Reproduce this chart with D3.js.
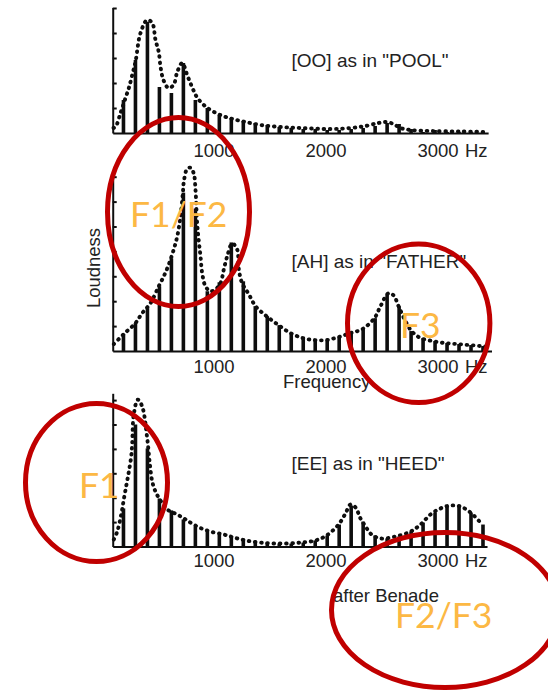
<!DOCTYPE html>
<html><head><meta charset="utf-8">
<script src="https://cdn.jsdelivr.net/npm/d3@7"></script>
<style>
html,body{margin:0;padding:0;background:#fff;}
svg{display:block;}
</style></head><body>
<svg id="chart" width="548" height="692"></svg>
<script>
// ---------------- data ----------------
const fundamentalHz = 107;
const harmonicNumbers = d3.range(2, 33); // harmonics 2..32
const tickValuesHz = [1000, 2000, 3000];
const unitLabel = "Hz";
const vowelTitles = ['[OO] as in "POOL"', '[AH] as in "FATHER"', '[EE] as in "HEED"'];
const yAxisTitle = "Loudness";
const xAxisTitle = "Frequency";
const sourceNote = "after Benade";
const annotationLabels = ["F1/F2", "F3", "F1", "F2/F3"];

// harmonic loudness (one value per harmonic 2..32)
const ooHarmonics = [13.2, 29.2, 44.4, 18.4, 16, 28, 13.2, 10, 7.2, 6, 4.8, 4, 3.2, 2.4, 2, 1.6,
  1.6, 1.2, 1.2, 1.6, 2, 2.8, 4, 3.6, 1.6, 0.4, 1.2, 0.4, 0.4, 0.4, 0.4];
const ahHarmonics = [6.8, 11.2, 17.2, 26, 37.2, 63.6, 57.2, 24, 27.6, 43.6, 28, 18, 14, 10.4, 7.2, 5.2,
  4.4, 4.4, 5.6, 7.2, 8.8, 13.2, 22.8, 18, 8, 5.2, 4, 3.2, 2.8, 2.4, 2];
const eeHarmonics = [15.6, 50, 40.2, 19.7, 14.8, 11.1, 8.2, 6.1, 4.9, 4.1, 2.9, 2, 1.6, 1.2, 1.2, 1.6,
  2.5, 4.5, 9, 16.8, 10.2, 4.5, 3.3, 4.1, 6.1, 9.8, 13.9, 16.4, 16.4, 13.9, 9];

// resonance envelopes [Hz, loudness]
const ooEnvelope = [[125,2],[143,2.4],[188,8],[232,14],[262,18],[292,23.2],[321,28.4],[366,40],[426,45.2],
  [471,44],[500,37.2],[529,32.4],[545,26.4],[571,21.2],[616,18],[661,19.2],[694,24.4],[738,28],[786,22.8],
  [830,18],[875,14],[964,10],[1080,7.2],[1188,5.6],[1304,4.4],[1438,3.2],[1616,2.4],[1795,2],[2063,1.6],
  [2241,2],[2375,2.8],[2491,4],[2563,4.4],[2625,3.6],[2688,2],[2777,1.2],[2955,0.8],[3223,0.6],[3450,0.4]];
const ahEnvelope = [[128,2.8],[217,6.8],[321,11.2],[381,15.2],[455,19.2],[529,26],[574,30],[619,34.8],
  [663,40.8],[694,46],[723,54],[744,63.2],[753,68],[783,73.2],[813,73.6],[842,71.2],[857,64.8],[872,51.2],
  [887,44],[902,38],[917,31.2],[946,26],[991,24],[1036,24.8],[1080,27.2],[1110,32.8],[1140,38],[1185,43.2],
  [1229,40.8],[1244,32.8],[1274,27.2],[1333,22.8],[1393,18],[1491,14],[1598,10.4],[1705,7.2],[1813,5.2],
  [1920,4.4],[2027,4.4],[2134,5.6],[2241,7.2],[2348,8.8],[2455,13.2],[2509,18],[2580,23.2],[2625,22.4],
  [2670,18],[2723,12.8],[2786,8],[2866,5.2],[2973,4],[3080,3.2],[3188,2.8],[3295,2.4],[3402,2],[3480,1.6]];
const eeEnvelope = [[128,2.9],[158,6.1],[194,13.1],[217,19.3],[241,25.4],[262,30.7],[283,36.9],[292,42.2],
  [306,54.1],[342,60.2],[381,57.4],[426,44.3],[449,34],[471,26.6],[500,22.5],[538,19.3],[604,15.2],
  [694,13.1],[768,11.1],[872,8.2],[991,6.1],[1110,4.9],[1199,3.7],[1304,2.5],[1438,1.6],[1616,1.2],
  [1795,1.6],[1929,2.5],[2027,4.5],[2134,9],[2196,13.5],[2241,17.2],[2286,16],[2330,11.5],[2375,8.2],
  [2429,4.9],[2509,3.3],[2643,4.1],[2777,6.1],[2866,9],[2955,13.1],[3045,15.6],[3134,16.8],[3223,16.4],
  [3313,13.9],[3402,9.8]];

// ---------------- layout ----------------
const svg = d3.select("#chart");
const INK = "#0e0e0e", TEXT = "#222";
const FONT = "'Liberation Sans', Arial, Helvetica, sans-serif";
const xBase = d3.scaleLinear().domain([0, 3500]).range([99.5, 491.5]);
const fStart = 118;

const panels = [
  {title: vowelTitles[0], bars: ooHarmonics, env: ooEnvelope, base: 133, top: 7.5, ppu: 2.5, fMax: 3470, titleY: 67, tickY: 156.5},
  {title: vowelTitles[1], bars: ahHarmonics, env: ahEnvelope, base: 351, top: 173, ppu: 2.49, fMax: 3500, titleY: 267.5, tickY: 373.3},
  {title: vowelTitles[2], bars: eeHarmonics, env: eeEnvelope, base: 546.5, top: 393.3, ppu: 2.44, fMax: 3460, titleY: 469.5, tickY: 567.3}
];

panels.forEach(p => {
  const g = svg.append("g");
  const x = d3.scaleLinear().domain([fStart, p.fMax]).range([xBase(fStart), xBase(p.fMax)]);
  const yMax = (p.base - p.top) / p.ppu;
  const y = d3.scaleLinear().domain([0, yMax]).range([p.base, p.top]);

  // bars
  g.selectAll("rect.bar").data(harmonicNumbers.map((k, i) => ({f: k * fundamentalHz, v: p.bars[i]})))
    .join("rect").attr("class", "bar")
    .attr("x", d => x(d.f) - 1.8).attr("width", 3.6)
    .attr("y", d => y(d.v)).attr("height", d => p.base - y(d.v))
    .attr("fill", INK);

  // envelope (dotted)
  const line = d3.line().x(d => x(d[0])).y(d => y(d[1])).curve(d3.curveCatmullRom.alpha(0.5));
  g.append("path").datum(p.env).attr("d", line)
    .attr("fill", "none").attr("stroke", INK).attr("stroke-width", 3.9)
    .attr("stroke-linecap", "round").attr("stroke-dasharray", "0.6 5.6");

  // y axis
  const yAxis = d3.axisRight(y).tickValues(d3.range(10, yMax, 10)).tickSize(4).tickSizeOuter(0).tickFormat("");
  const ya = g.append("g").attr("transform", `translate(${xBase(fStart)},0)`).call(yAxis);
  ya.selectAll("path,line").attr("stroke", INK).attr("stroke-width", 2);

  // x axis
  const xAxis = d3.axisBottom(x).tickValues(tickValuesHz).tickSize(0).tickSizeOuter(0).tickFormat(d3.format("d"));
  const xa = g.append("g").attr("transform", `translate(0,${p.base})`).call(xAxis);
  xa.select(".domain").attr("stroke", INK).attr("stroke-width", 2);
  xa.selectAll("text").attr("y", p.tickY - p.base).attr("dy", null).attr("dx", 2)
    .attr("font-family", FONT).attr("font-size", 18.5).attr("fill", TEXT);
  g.append("text").attr("x", x(tickValuesHz[2]) + 29.5).attr("y", p.tickY)
    .attr("font-family", FONT).attr("font-size", 18.5).attr("fill", TEXT).text(unitLabel);

  // title
  g.append("text").attr("x", 291.5).attr("y", p.titleY)
    .attr("font-family", FONT).attr("font-size", 19).attr("fill", TEXT).text(p.title);
});

svg.append("text").attr("transform", "translate(100,268) rotate(-90)")
  .attr("text-anchor", "middle").attr("font-family", FONT).attr("font-size", 18.5).attr("fill", TEXT).text(yAxisTitle);
svg.append("text").attr("x", 283).attr("y", 388)
  .attr("font-family", FONT).attr("font-size", 18.5).attr("fill", TEXT).text(xAxisTitle);
svg.append("text").attr("x", 333).attr("y", 601.7)
  .attr("font-family", FONT).attr("font-size", 18.5).attr("fill", TEXT).text(sourceNote);

// ---------------- annotations ----------------
const rings = [
  {cx: 178.5, cy: 212, rx: 71, ry: 94.5, tx: 130, ty: 226.7},
  {cx: 418.7, cy: 323.3, rx: 71.2, ry: 79.2, tx: 400, ty: 338.3},
  {cx: 96.5, cy: 482.5, rx: 71, ry: 79, tx: 79, ty: 498.3},
  {cx: 445, cy: 610, rx: 113.5, ry: 77.5, tx: 395, ty: 628}
];
const ann = svg.append("g");
ann.selectAll("ellipse").data(rings).join("ellipse")
  .attr("cx", d => d.cx).attr("cy", d => d.cy).attr("rx", d => d.rx).attr("ry", d => d.ry)
  .attr("fill", "none").attr("stroke", "#C00000").attr("stroke-width", 5);
ann.selectAll("text").data(rings).join("text")
  .attr("x", d => d.tx).attr("y", d => d.ty)
  .attr("font-family", "Lato, 'Open Sans', sans-serif").attr("font-size", 35.5).attr("fill", "#FCB844")
  .text((d, i) => annotationLabels[i]);
</script>
</body></html>
